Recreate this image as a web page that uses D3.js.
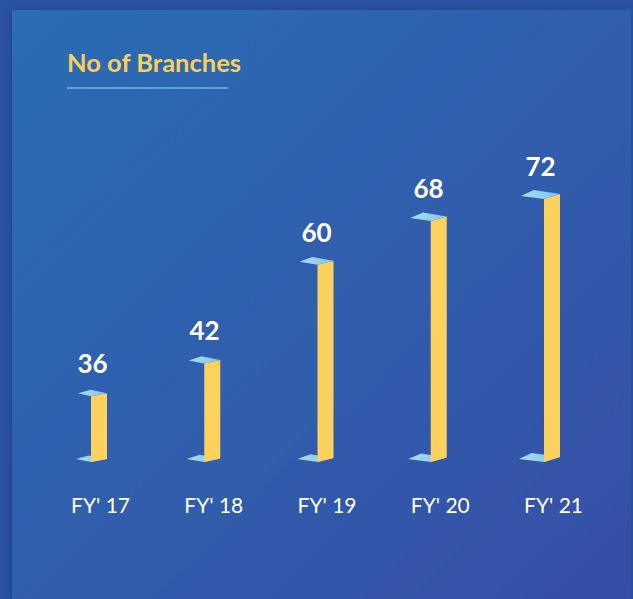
<!DOCTYPE html>
<html lang="en">
<head>
<meta charset="utf-8">
<style>
  body { margin: 0; background: #2b53a1; }
  svg { display: block; font-family: Lato, "Open Sans", sans-serif; }
</style>
<script src="https://d3js.org/d3.v7.min.js"></script>
</head>
<body>
<svg width="633" height="599"></svg>
<script>
// chart data
var categories = ["FY' 17", "FY' 18", "FY' 19", "FY' 20", "FY' 21"];
var branches = [36, 42, 60, 68, 72];
var title = "No of Branches";

var svg = d3.select("svg"),
    width = +svg.attr("width"),
    height = +svg.attr("height");

var defs = svg.append("defs");
var bg = defs.append("linearGradient")
    .attr("id", "bg")
    .attr("x1", 0).attr("y1", 0).attr("x2", 1).attr("y2", 1);
bg.append("stop").attr("offset", 0).attr("stop-color", "#2a6db4");
bg.append("stop").attr("offset", 1).attr("stop-color", "#364ea6");

var capGrad = defs.append("linearGradient")
    .attr("id", "cap")
    .attr("x1", 0).attr("y1", 0).attr("x2", 1).attr("y2", 0);
capGrad.append("stop").attr("offset", 0).attr("stop-color", "#a9dcf2");
capGrad.append("stop").attr("offset", 1).attr("stop-color", "#7cc6ea");

var shadow = defs.append("filter").attr("id", "shadow")
    .attr("x", -0.1).attr("y", -0.1).attr("width", 1.2).attr("height", 1.2);
shadow.append("feDropShadow")
    .attr("dx", -2).attr("dy", -1).attr("stdDeviation", 3)
    .attr("flood-color", "#1d3f86").attr("flood-opacity", 0.7);

// outer frame + panel
svg.append("rect")
    .attr("width", width).attr("height", height)
    .attr("fill", "#2b53a1");
svg.append("rect")
    .attr("x", 12).attr("y", 10)
    .attr("width", 619).attr("height", height)
    .attr("fill", "url(#bg)")
    .attr("filter", "url(#shadow)");

// title
svg.append("text")
    .attr("x", 67).attr("y", 72)
    .attr("fill", "#f8cf58")
    .attr("font-size", 25.5)
    .attr("font-weight", 700)
    .text(title);
svg.append("line")
    .attr("x1", 67).attr("x2", 228)
    .attr("y1", 88).attr("y2", 88)
    .attr("stroke", "#6db6ec")
    .attr("stroke-width", 1.5);

// scales
var x = d3.scalePoint()
    .domain(categories)
    .range([99, 552]);

var y = d3.scaleLinear()
    .domain([24, 72])
    .range([462, 199]);

var barW = 16;

function capPoints(dx, dy, i, grow) {
    var depth = 13 + 2.5 * i + (grow || 0),
        slant = 3 + 0.5 * i;
    var D = [dx, dy],
        A = [dx - depth, dy - 3],
        C = [dx + barW, dy - slant],
        B = [A[0] + (C[0] - D[0]) * 0.8, A[1] + (C[1] - D[1]) * 1.2];
    return [A, B, C, D].map(function(p) { return p.join(","); }).join(" ");
}

var bars = svg.append("g").selectAll("g")
    .data(branches)
    .enter().append("g");

// base plate (behind the bar)
bars.append("polygon")
    .attr("points", function(d, i) {
        return capPoints(x(categories[i]) - barW / 2, y(24), i, 2);
    })
    .attr("fill", "url(#cap)");

// bar face
bars.append("polygon")
    .attr("points", function(d, i) {
        var left = x(categories[i]) - barW / 2,
            slant = 3 + 0.5 * i;
        return [
            [left, y(d)],
            [left + barW, y(d) - slant],
            [left + barW, y(24) - slant],
            [left, y(24)]
        ].map(function(p) { return p.join(","); }).join(" ");
    })
    .attr("fill", "#fcd15e");

// top cap
bars.append("polygon")
    .attr("points", function(d, i) {
        return capPoints(x(categories[i]) - barW / 2, y(d), i);
    })
    .attr("fill", "url(#cap)");

// value labels
bars.append("text")
    .attr("x", function(d, i) {
        var depth = 13 + 2.5 * i;
        return x(categories[i]) - barW / 2 + (barW - depth) / 2;
    })
    .attr("y", function(d) { return y(d) - 23; })
    .attr("text-anchor", "middle")
    .attr("fill", "#ffffff")
    .attr("font-size", 26)
    .attr("font-weight", 700)
    .text(function(d) { return d; });

// category axis (labels only)
var xAxis = svg.append("g")
    .attr("transform", "translate(1,496)")
    .call(d3.axisBottom(x).tickSize(0).tickPadding(0));
xAxis.select(".domain").remove();
xAxis.selectAll("text")
    .attr("fill", "#ffffff")
    .attr("font-size", 21)
    .attr("font-family", "Lato, 'Open Sans', sans-serif")
    .attr("dy", "0.8em");
</script>
</body>
</html>
